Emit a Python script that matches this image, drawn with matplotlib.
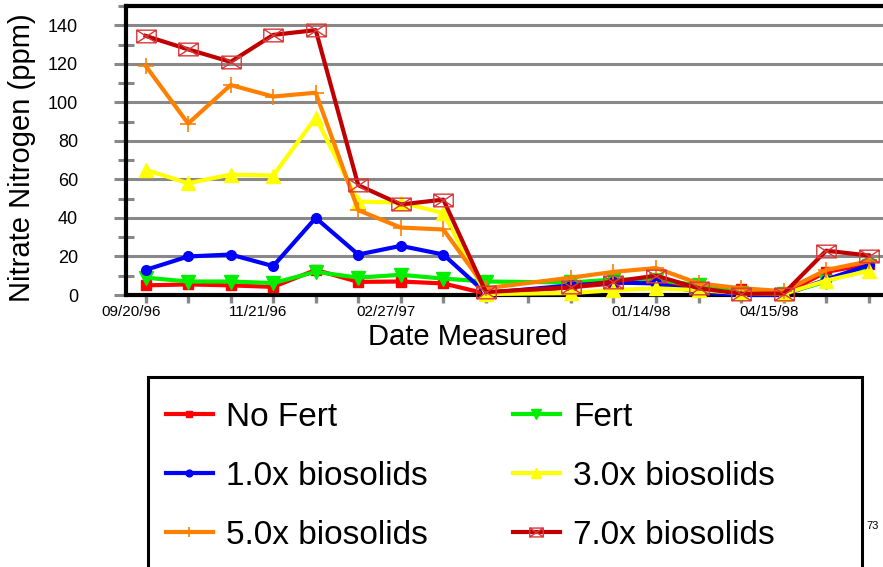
import numpy as np
import matplotlib
matplotlib.use("Agg")
import matplotlib.pyplot as plt
from matplotlib.path import Path
from matplotlib.patches import Rectangle

plt.rcParams['font.family'] = ['Liberation Sans', 'DejaVu Sans']

# category slots along the x axis (slot 9 has no measurement)
n_slots = 18
x_idx = [0, 1, 2, 3, 4, 5, 6, 7, 8, 10, 11, 12, 13, 14, 15, 16, 17]

date_labels = ["09/20/96", "11/21/96", "02/27/97", "01/14/98", "04/15/98"]
date_label_pos = [-0.35, 2.65, 5.65, 11.65, 14.65]

no_fert = [5, 5.5, 5, 4.2, 13, 6.8, 7, 6, 0.7, 4, 6, 7, 3, 3, 0.5, 12, 16]
fert = [9, 7, 7, 6.2, 12, 9, 10.5, 8.5, 7, 6.5, 8, 8, 5, 1, 0.5, 7, 15]
bio_1 = [13, 20, 21, 15, 40, 21, 25.5, 21, 1, 5, 6.5, 6, 1.5, 0, 0, 8, 15.5]
bio_3 = [65, 58, 62.5, 62, 92, 48.5, 48, 42.5, 0.5, 1, 2.5, 3.5, 2.5, 1, 0.5, 7.5, 12.5]
bio_5 = [119, 89, 109, 103, 105, 44, 35, 34, 3.5, 9, 12, 14, 6, 3.5, 2, 13, 17.5]
bio_7 = [134.5, 127.5, 121, 135, 137.5, 57, 47, 49.5, 1.5, 4, 7, 10, 3.5, 0.7, 0.7, 23, 20.5]

# envelope-like marker: box with both diagonals
box_x = Path(
    [(-1, -0.65), (1, -0.65), (1, 0.65), (-1, 0.65), (-1, -0.65),
     (-1, -0.65), (1, 0.65), (-1, 0.65), (1, -0.65)],
    [Path.MOVETO, Path.LINETO, Path.LINETO, Path.LINETO, Path.CLOSEPOLY,
     Path.MOVETO, Path.LINETO, Path.MOVETO, Path.LINETO])

fig = plt.figure(figsize=(8.83, 5.67), dpi=100)
ax = fig.add_axes([126 / 883, 1 - 295 / 567, 764 / 883, 289 / 567])

series = [
    ("No Fert", no_fert, dict(color="#ff0000", marker="s", ms=7, lw=3)),
    ("Fert", fert, dict(color="#00ee00", marker="v", ms=10, lw=3)),
    ("1.0x biosolids", bio_1, dict(color="#0000ff", marker="o", ms=7, lw=3)),
    ("3.0x biosolids", bio_3, dict(color="#ffff00", marker="^", ms=10, lw=3)),
    ("5.0x biosolids", bio_5, dict(color="#ff8000", marker="+", ms=11, mew=1.2, lw=3)),
    ("7.0x biosolids", bio_7, dict(color="#c00000", marker=box_x, ms=14, mew=1,
                                   mec="#d83a3a", mfc="none", lw=3)),
]

handles = {}
for name, vals, style in series:
    h, = ax.plot(x_idx, vals, label=name, zorder=3, clip_on=False, **style)
    handles[name] = h

ax.set_xlim(-0.46, 17.5)
ax.set_ylim(0, 150)

ax.set_yticks(np.arange(0, 141, 20))
ax.set_yticks(np.arange(10, 151, 20), minor=True)
ax.tick_params(axis='y', which='major', direction='out', length=8.6, width=2.2,
               color='#888888', labelsize=13, pad=26)
ax.tick_params(axis='y', which='minor', direction='inout', length=11, width=2.2,
               color='#888888')
ax.grid(axis='y', which='major', color='#888888', lw=2.2, zorder=0)

ax.set_xticks(range(n_slots))
ax.set_xticklabels([])
ax.set_xticks(date_label_pos, date_labels, minor=True)
ax.tick_params(axis='x', which='major', direction='out', length=5.5, width=2.4,
               color='#888888')
ax.tick_params(axis='x', which='minor', length=0, labelsize=11, pad=7)

for side in ['left', 'bottom', 'top']:
    ax.spines[side].set_linewidth(3)
    ax.spines[side].set_color('black')
ax.spines['right'].set_visible(False)
ax.set_axisbelow(True)

fig.text(22 / 883, 1 - 158 / 567, "Nitrate Nitrogen (ppm)", rotation=90,
         ha='center', va='center', fontsize=21)
fig.text(468 / 883, 1 - 337 / 567, "Date Measured", ha='center', va='center',
         fontsize=21)

# legend frame (runs off the bottom of the page)
fig.patches.append(Rectangle((148 / 883, -0.05), (862 - 148) / 883, 0.05 + 1 - 377 / 567,
                             transform=fig.transFigure, fill=False, ec='black', lw=2.2))
order = ["No Fert", "1.0x biosolids", "5.0x biosolids", "Fert", "3.0x biosolids", "7.0x biosolids"]
fig.legend([handles[k] for k in order], order, loc='upper left',
           bbox_to_anchor=(166 / 883, 1 - 402 / 567), ncol=2, frameon=False,
           fontsize=24, handlelength=1.4, handletextpad=0.4, columnspacing=2.55,
           labelspacing=0.84, borderpad=0, borderaxespad=0, markerscale=0.7)

fig.text(866 / 883, 1 - 526 / 567, "73", fontsize=8, va='center')

fig.savefig("out.png", dpi=100)
